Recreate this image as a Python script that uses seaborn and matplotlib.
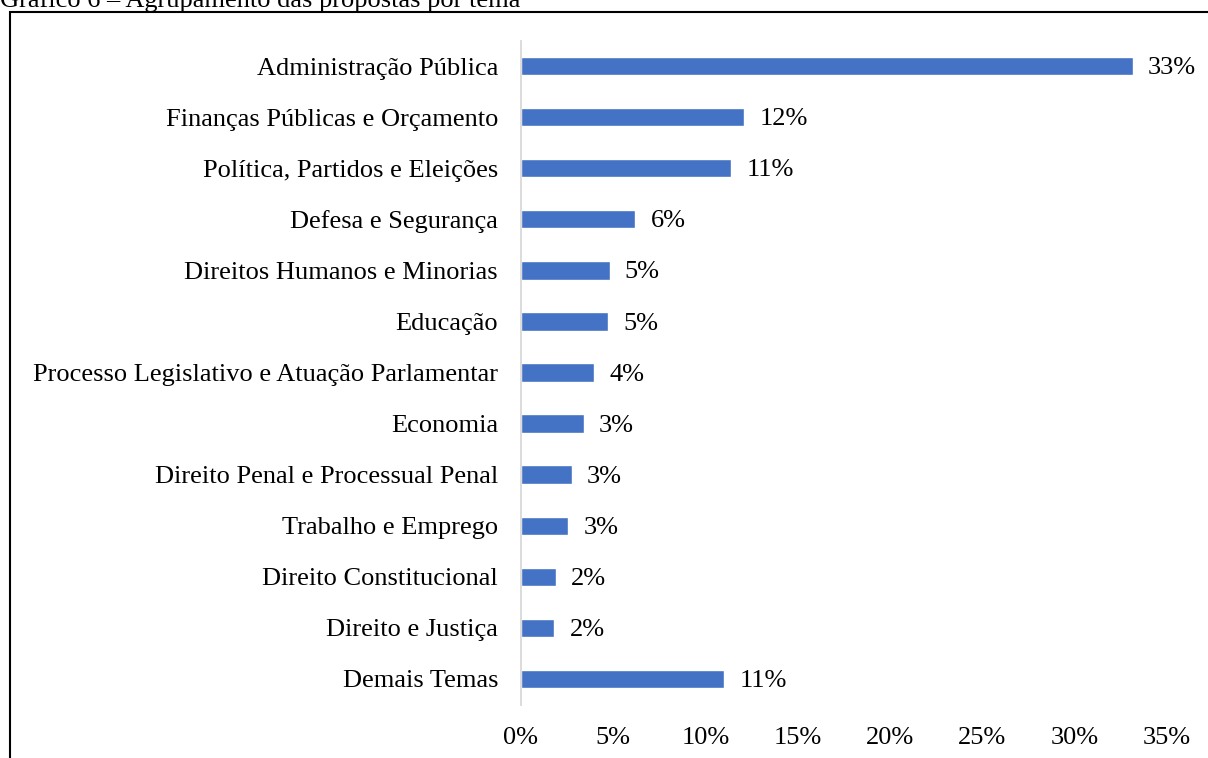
import matplotlib
matplotlib.use("Agg")
import matplotlib.pyplot as plt
import matplotlib.patches as mpatches
import seaborn as sns
import pandas as pd

categories = [
    "Administração Pública",
    "Finanças Públicas e Orçamento",
    "Política, Partidos e Eleições",
    "Defesa e Segurança",
    "Direitos Humanos e Minorias",
    "Educação",
    "Processo Legislativo e Atuação Parlamentar",
    "Economia",
    "Direito Penal e Processual Penal",
    "Trabalho e Emprego",
    "Direito Constitucional",
    "Direito e Justiça",
    "Demais Temas",
]
values = [33.15, 12.1, 11.4, 6.2, 4.8, 4.7, 3.95, 3.4, 2.75, 2.55, 1.9, 1.8, 11.0]
value_labels = ["33%", "12%", "11%", "6%", "5%", "5%", "4%", "3%", "3%", "3%", "2%", "2%", "11%"]
xticks = [0, 5, 10, 15, 20, 25, 30, 35]
xtick_labels = ["0%", "5%", "10%", "15%", "20%", "25%", "30%", "35%"]
title = "Gráfico 6 – Agrupamento das propostas por tema"

df = pd.DataFrame({"tema": categories, "pct": values})

sns.set_theme(style="white")
plt.rcParams["font.family"] = ["Liberation Serif", "DejaVu Serif"]

FS = 19
W, H = 1208, 758
fig = plt.figure(figsize=(W / 100, H / 100), dpi=100)
ax = fig.add_axes([521 / W, 1 - 704.5 / H, (1167 - 521) / W, (704.5 - 40.5) / H])

sns.barplot(data=df, x="pct", y="tema", orient="h", color="#4472C4",
            width=0.36, saturation=1, ax=ax)

for i, (v, lab) in enumerate(zip(values, value_labels)):
    ax.annotate(lab, xy=(v, i), xytext=(11, -1.5), textcoords="offset points",
                ha="left", va="center", fontsize=FS, color="#000000")

ax.set_xlim(0, 35)
ax.set_ylim(len(categories) - 0.5, -0.5)
ax.set_xticks(xticks)
ax.set_xticklabels(xtick_labels)
ax.set_xlabel("")
ax.set_ylabel("")
ax.tick_params(axis="x", length=0, pad=16, labelsize=FS, colors="#000000")
ax.tick_params(axis="y", length=0, pad=16.5, labelsize=FS, colors="#000000")
for s in ["top", "right", "bottom"]:
    ax.spines[s].set_visible(False)
ax.spines["left"].set_color("#d9d9d9")
ax.spines["left"].set_linewidth(1.3)
ax.grid(False)

fig.text(0.0, 1 - 7 / H, title, ha="left", va="baseline", fontsize=FS, color="#000000")

rect = mpatches.Rectangle((10 / W, -0.1), 1.2, (1 - 12 / H) + 0.1,
                          transform=fig.transFigure, fill=False,
                          edgecolor="#000000", linewidth=1.5, clip_on=False)
fig.patches.append(rect)

fig.savefig("out.png", dpi=100)
